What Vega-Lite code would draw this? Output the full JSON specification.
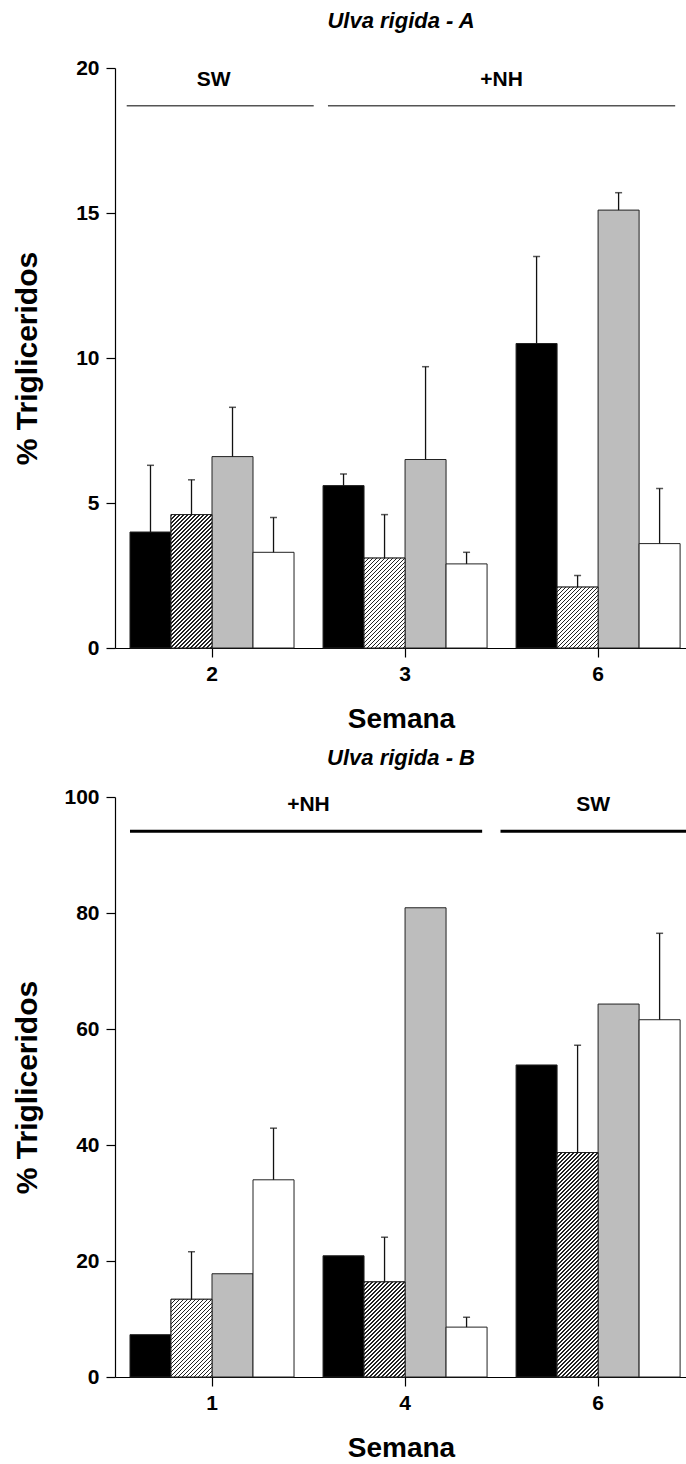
{
  "$schema": "https://vega.github.io/schema/vega-lite/v6.json",
  "background": "white",
  "padding": {"left": 12, "top": 10, "right": 0, "bottom": 0},
  "spacing": 14,
  "config": {
    "font": "Liberation Sans",
    "view": {"stroke": null},
    "axis": {
      "labelFont": "Liberation Sans", "labelFontWeight": "bold", "labelFontSize": 21, "labelColor": "#000",
      "titleFont": "Liberation Sans", "titleFontWeight": "bold", "titleFontSize": 28, "titleColor": "#000",
      "domainColor": "#000", "domainWidth": 1.2, "tickColor": "#000", "tickWidth": 1.2, "tickSize": 9, "grid": false, "labelPadding": 6
    },
    "axisX": {"labelAngle": 0, "titlePadding": 21},
    "axisY": {"titlePadding": 16, "titleX": -87.5, "titleBaseline": "middle", "titleFontSize": 30, "labelPadding": 7},
    "title": {"font": "Liberation Sans", "fontSize": 22, "fontStyle": "italic", "fontWeight": "bold", "color": "#000", "anchor": "middle", "frame": "group", "offset": 24}
  },
  "params": [{"name": "hatch", "value": [
{"offset":0,"color":"#222"},{"offset":0.004,"color":"#222"},{"offset":0.004,"color":"#fff"},{"offset":0.01,"color":"#fff"},
{"offset":0.01,"color":"#222"},{"offset":0.014,"color":"#222"},{"offset":0.014,"color":"#fff"},{"offset":0.02,"color":"#fff"},
{"offset":0.02,"color":"#222"},{"offset":0.024,"color":"#222"},{"offset":0.024,"color":"#fff"},{"offset":0.03,"color":"#fff"},
{"offset":0.03,"color":"#222"},{"offset":0.034,"color":"#222"},{"offset":0.034,"color":"#fff"},{"offset":0.04,"color":"#fff"},
{"offset":0.04,"color":"#222"},{"offset":0.044,"color":"#222"},{"offset":0.044,"color":"#fff"},{"offset":0.05,"color":"#fff"},
{"offset":0.05,"color":"#222"},{"offset":0.054,"color":"#222"},{"offset":0.054,"color":"#fff"},{"offset":0.06,"color":"#fff"},
{"offset":0.06,"color":"#222"},{"offset":0.064,"color":"#222"},{"offset":0.064,"color":"#fff"},{"offset":0.07,"color":"#fff"},
{"offset":0.07,"color":"#222"},{"offset":0.074,"color":"#222"},{"offset":0.074,"color":"#fff"},{"offset":0.08,"color":"#fff"},
{"offset":0.08,"color":"#222"},{"offset":0.084,"color":"#222"},{"offset":0.084,"color":"#fff"},{"offset":0.09,"color":"#fff"},
{"offset":0.09,"color":"#222"},{"offset":0.094,"color":"#222"},{"offset":0.094,"color":"#fff"},{"offset":0.1,"color":"#fff"},
{"offset":0.1,"color":"#222"},{"offset":0.104,"color":"#222"},{"offset":0.104,"color":"#fff"},{"offset":0.11,"color":"#fff"},
{"offset":0.11,"color":"#222"},{"offset":0.114,"color":"#222"},{"offset":0.114,"color":"#fff"},{"offset":0.12,"color":"#fff"},
{"offset":0.12,"color":"#222"},{"offset":0.124,"color":"#222"},{"offset":0.124,"color":"#fff"},{"offset":0.13,"color":"#fff"},
{"offset":0.13,"color":"#222"},{"offset":0.134,"color":"#222"},{"offset":0.134,"color":"#fff"},{"offset":0.14,"color":"#fff"},
{"offset":0.14,"color":"#222"},{"offset":0.144,"color":"#222"},{"offset":0.144,"color":"#fff"},{"offset":0.15,"color":"#fff"},
{"offset":0.15,"color":"#222"},{"offset":0.154,"color":"#222"},{"offset":0.154,"color":"#fff"},{"offset":0.16,"color":"#fff"},
{"offset":0.16,"color":"#222"},{"offset":0.164,"color":"#222"},{"offset":0.164,"color":"#fff"},{"offset":0.17,"color":"#fff"},
{"offset":0.17,"color":"#222"},{"offset":0.174,"color":"#222"},{"offset":0.174,"color":"#fff"},{"offset":0.18,"color":"#fff"},
{"offset":0.18,"color":"#222"},{"offset":0.184,"color":"#222"},{"offset":0.184,"color":"#fff"},{"offset":0.19,"color":"#fff"},
{"offset":0.19,"color":"#222"},{"offset":0.194,"color":"#222"},{"offset":0.194,"color":"#fff"},{"offset":0.2,"color":"#fff"},
{"offset":0.2,"color":"#222"},{"offset":0.204,"color":"#222"},{"offset":0.204,"color":"#fff"},{"offset":0.21,"color":"#fff"},
{"offset":0.21,"color":"#222"},{"offset":0.214,"color":"#222"},{"offset":0.214,"color":"#fff"},{"offset":0.22,"color":"#fff"},
{"offset":0.22,"color":"#222"},{"offset":0.224,"color":"#222"},{"offset":0.224,"color":"#fff"},{"offset":0.23,"color":"#fff"},
{"offset":0.23,"color":"#222"},{"offset":0.234,"color":"#222"},{"offset":0.234,"color":"#fff"},{"offset":0.24,"color":"#fff"},
{"offset":0.24,"color":"#222"},{"offset":0.244,"color":"#222"},{"offset":0.244,"color":"#fff"},{"offset":0.25,"color":"#fff"},
{"offset":0.25,"color":"#222"},{"offset":0.254,"color":"#222"},{"offset":0.254,"color":"#fff"},{"offset":0.26,"color":"#fff"},
{"offset":0.26,"color":"#222"},{"offset":0.264,"color":"#222"},{"offset":0.264,"color":"#fff"},{"offset":0.27,"color":"#fff"},
{"offset":0.27,"color":"#222"},{"offset":0.274,"color":"#222"},{"offset":0.274,"color":"#fff"},{"offset":0.28,"color":"#fff"},
{"offset":0.28,"color":"#222"},{"offset":0.284,"color":"#222"},{"offset":0.284,"color":"#fff"},{"offset":0.29,"color":"#fff"},
{"offset":0.29,"color":"#222"},{"offset":0.294,"color":"#222"},{"offset":0.294,"color":"#fff"},{"offset":0.3,"color":"#fff"},
{"offset":0.3,"color":"#222"},{"offset":0.304,"color":"#222"},{"offset":0.304,"color":"#fff"},{"offset":0.31,"color":"#fff"},
{"offset":0.31,"color":"#222"},{"offset":0.314,"color":"#222"},{"offset":0.314,"color":"#fff"},{"offset":0.32,"color":"#fff"},
{"offset":0.32,"color":"#222"},{"offset":0.324,"color":"#222"},{"offset":0.324,"color":"#fff"},{"offset":0.33,"color":"#fff"},
{"offset":0.33,"color":"#222"},{"offset":0.334,"color":"#222"},{"offset":0.334,"color":"#fff"},{"offset":0.34,"color":"#fff"},
{"offset":0.34,"color":"#222"},{"offset":0.344,"color":"#222"},{"offset":0.344,"color":"#fff"},{"offset":0.35,"color":"#fff"},
{"offset":0.35,"color":"#222"},{"offset":0.354,"color":"#222"},{"offset":0.354,"color":"#fff"},{"offset":0.36,"color":"#fff"},
{"offset":0.36,"color":"#222"},{"offset":0.364,"color":"#222"},{"offset":0.364,"color":"#fff"},{"offset":0.37,"color":"#fff"},
{"offset":0.37,"color":"#222"},{"offset":0.374,"color":"#222"},{"offset":0.374,"color":"#fff"},{"offset":0.38,"color":"#fff"},
{"offset":0.38,"color":"#222"},{"offset":0.384,"color":"#222"},{"offset":0.384,"color":"#fff"},{"offset":0.39,"color":"#fff"},
{"offset":0.39,"color":"#222"},{"offset":0.394,"color":"#222"},{"offset":0.394,"color":"#fff"},{"offset":0.4,"color":"#fff"},
{"offset":0.4,"color":"#222"},{"offset":0.404,"color":"#222"},{"offset":0.404,"color":"#fff"},{"offset":0.41,"color":"#fff"},
{"offset":0.41,"color":"#222"},{"offset":0.414,"color":"#222"},{"offset":0.414,"color":"#fff"},{"offset":0.42,"color":"#fff"},
{"offset":0.42,"color":"#222"},{"offset":0.424,"color":"#222"},{"offset":0.424,"color":"#fff"},{"offset":0.43,"color":"#fff"},
{"offset":0.43,"color":"#222"},{"offset":0.434,"color":"#222"},{"offset":0.434,"color":"#fff"},{"offset":0.44,"color":"#fff"},
{"offset":0.44,"color":"#222"},{"offset":0.444,"color":"#222"},{"offset":0.444,"color":"#fff"},{"offset":0.45,"color":"#fff"},
{"offset":0.45,"color":"#222"},{"offset":0.454,"color":"#222"},{"offset":0.454,"color":"#fff"},{"offset":0.46,"color":"#fff"},
{"offset":0.46,"color":"#222"},{"offset":0.464,"color":"#222"},{"offset":0.464,"color":"#fff"},{"offset":0.47,"color":"#fff"},
{"offset":0.47,"color":"#222"},{"offset":0.474,"color":"#222"},{"offset":0.474,"color":"#fff"},{"offset":0.48,"color":"#fff"},
{"offset":0.48,"color":"#222"},{"offset":0.484,"color":"#222"},{"offset":0.484,"color":"#fff"},{"offset":0.49,"color":"#fff"},
{"offset":0.49,"color":"#222"},{"offset":0.494,"color":"#222"},{"offset":0.494,"color":"#fff"},{"offset":0.5,"color":"#fff"},
{"offset":0.5,"color":"#222"},{"offset":0.504,"color":"#222"},{"offset":0.504,"color":"#fff"},{"offset":0.51,"color":"#fff"},
{"offset":0.51,"color":"#222"},{"offset":0.514,"color":"#222"},{"offset":0.514,"color":"#fff"},{"offset":0.52,"color":"#fff"},
{"offset":0.52,"color":"#222"},{"offset":0.524,"color":"#222"},{"offset":0.524,"color":"#fff"},{"offset":0.53,"color":"#fff"},
{"offset":0.53,"color":"#222"},{"offset":0.534,"color":"#222"},{"offset":0.534,"color":"#fff"},{"offset":0.54,"color":"#fff"},
{"offset":0.54,"color":"#222"},{"offset":0.544,"color":"#222"},{"offset":0.544,"color":"#fff"},{"offset":0.55,"color":"#fff"},
{"offset":0.55,"color":"#222"},{"offset":0.554,"color":"#222"},{"offset":0.554,"color":"#fff"},{"offset":0.56,"color":"#fff"},
{"offset":0.56,"color":"#222"},{"offset":0.564,"color":"#222"},{"offset":0.564,"color":"#fff"},{"offset":0.57,"color":"#fff"},
{"offset":0.57,"color":"#222"},{"offset":0.574,"color":"#222"},{"offset":0.574,"color":"#fff"},{"offset":0.58,"color":"#fff"},
{"offset":0.58,"color":"#222"},{"offset":0.584,"color":"#222"},{"offset":0.584,"color":"#fff"},{"offset":0.59,"color":"#fff"},
{"offset":0.59,"color":"#222"},{"offset":0.594,"color":"#222"},{"offset":0.594,"color":"#fff"},{"offset":0.6,"color":"#fff"},
{"offset":0.6,"color":"#222"},{"offset":0.604,"color":"#222"},{"offset":0.604,"color":"#fff"},{"offset":0.61,"color":"#fff"},
{"offset":0.61,"color":"#222"},{"offset":0.614,"color":"#222"},{"offset":0.614,"color":"#fff"},{"offset":0.62,"color":"#fff"},
{"offset":0.62,"color":"#222"},{"offset":0.624,"color":"#222"},{"offset":0.624,"color":"#fff"},{"offset":0.63,"color":"#fff"},
{"offset":0.63,"color":"#222"},{"offset":0.634,"color":"#222"},{"offset":0.634,"color":"#fff"},{"offset":0.64,"color":"#fff"},
{"offset":0.64,"color":"#222"},{"offset":0.644,"color":"#222"},{"offset":0.644,"color":"#fff"},{"offset":0.65,"color":"#fff"},
{"offset":0.65,"color":"#222"},{"offset":0.654,"color":"#222"},{"offset":0.654,"color":"#fff"},{"offset":0.66,"color":"#fff"},
{"offset":0.66,"color":"#222"},{"offset":0.664,"color":"#222"},{"offset":0.664,"color":"#fff"},{"offset":0.67,"color":"#fff"}
  ]}],
  "vconcat": [
    {
      "title": "Ulva rigida - A",
      "width": 572,
      "height": 580,
      "layer": [
        {
          "data": {"values": [
            {"wk": "2", "t": "a", "v": 4.0, "hi": 6.3},
            {"wk": "2", "t": "b", "v": 4.6, "hi": 5.8},
            {"wk": "2", "t": "c", "v": 6.6, "hi": 8.3},
            {"wk": "2", "t": "d", "v": 3.3, "hi": 4.5},
            {"wk": "3", "t": "a", "v": 5.6, "hi": 6.0},
            {"wk": "3", "t": "b", "v": 3.1, "hi": 4.6},
            {"wk": "3", "t": "c", "v": 6.5, "hi": 9.7},
            {"wk": "3", "t": "d", "v": 2.9, "hi": 3.3},
            {"wk": "6", "t": "a", "v": 10.5, "hi": 13.5},
            {"wk": "6", "t": "b", "v": 2.1, "hi": 2.5},
            {"wk": "6", "t": "c", "v": 15.1, "hi": 15.7},
            {"wk": "6", "t": "d", "v": 3.6, "hi": 5.5}
          ]},
          "encoding": {
            "x": {"field": "wk", "type": "ordinal", "title": "Semana", "scale": {"domain": ["2", "3", "6"], "paddingInner": 0.1503, "paddingOuter": 0.0567, "align": 0.685}},
            "xOffset": {"field": "t", "type": "nominal", "scale": {"domain": ["a", "b", "c", "d"], "paddingInner": 0, "paddingOuter": 0}}
          },
          "layer": [
            {
              "mark": {"type": "bar", "stroke": "#222", "strokeWidth": 1},
              "encoding": {
                "y": {"field": "v", "type": "quantitative", "title": "% Trigliceridos", "scale": {"domain": [0, 20], "nice": false}, "axis": {"values": [0, 5, 10, 15, 20]}},
                "fill": {"field": "t", "type": "nominal", "legend": null, "scale": {"domain": ["a", "b", "c", "d"], "range": ["#000000", "#ffffff", "#bdbdbd", "#ffffff"]}}
              }
            },
            {
              "transform": [{"filter": "datum.t === 'b'"}],
              "mark": {"type": "bar", "stroke": "#222", "strokeWidth": 1, "fill": {"expr": "{gradient: 'linear', x1: 0, y1: 0, x2: 41*400/(1681 + pow(datum.v*29, 2)), y2: datum.v*29*400/(1681 + pow(datum.v*29, 2)), stops: hatch}"}},
              "encoding": {
                "y": {"field": "v", "type": "quantitative", "title": "% Trigliceridos"}
              }
            },
            {
              "mark": {"type": "rule", "color": "#111", "strokeWidth": 1.3},
              "encoding": {
                "y": {"field": "v", "type": "quantitative", "title": "% Trigliceridos"},
                "y2": {"field": "hi"}
              }
            },
            {
              "mark": {"type": "tick", "color": "#111", "thickness": 1.5, "size": 7, "orient": "horizontal"},
              "encoding": {
                "y": {"field": "hi", "type": "quantitative", "title": "% Trigliceridos"}
              }
            }
          ]
        },
        {
          "data": {"values": [
            {"label": "SW", "first": "2", "last": "2"},
            {"label": "+NH", "first": "3", "last": "6"}
          ]},
          "layer": [
            {
              "transform": [{"filter": "datum.first === datum.last"}],
              "mark": {"type": "rule", "color": "#555", "strokeWidth": 1.5},
              "encoding": {
                "x": {"field": "first", "type": "ordinal", "title": "Semana", "bandPosition": -0.02, "scale": {"domain": ["2", "3", "6"]}},
                "x2": {"field": "last", "bandPosition": 1.12},
                "y": {"datum": 18.7, "type": "quantitative"}
              }
            },
            {
              "transform": [{"filter": "datum.first !== datum.last"}],
              "mark": {"type": "rule", "color": "#555", "strokeWidth": 1.5},
              "encoding": {
                "x": {"field": "first", "type": "ordinal", "title": "Semana", "bandPosition": 0.03, "scale": {"domain": ["2", "3", "6"]}},
                "x2": {"field": "last", "bandPosition": 0.97},
                "y": {"datum": 18.7, "type": "quantitative"}
              }
            },
            {
              "transform": [{"filter": "datum.first === datum.last"}],
              "mark": {"type": "text", "fontSize": 21, "fontWeight": "bold", "baseline": "middle", "align": "center", "color": "#000"},
              "encoding": {
                "x": {"field": "first", "type": "ordinal", "title": "Semana", "bandPosition": 0.51, "scale": {"domain": ["2", "3", "6"]}},
                "y": {"datum": 19.6, "type": "quantitative"},
                "text": {"field": "label"}
              }
            },
            {
              "transform": [{"filter": "datum.first !== datum.last"}],
              "mark": {"type": "text", "fontSize": 21, "fontWeight": "bold", "baseline": "middle", "align": "center", "color": "#000"},
              "encoding": {
                "x": {"field": "first", "type": "ordinal", "title": "Semana", "bandPosition": 1.088, "scale": {"domain": ["2", "3", "6"]}},
                "y": {"datum": 19.6, "type": "quantitative"},
                "text": {"field": "label"}
              }
            }
          ]
        }
      ]
    },
    {
      "title": {"text": "Ulva rigida - B", "offset": 16},
      "width": 572,
      "height": 580,
      "layer": [
        {
          "data": {"values": [
            {"wk": "1", "t": "a", "v": 7.3, "hi": null},
            {"wk": "1", "t": "b", "v": 13.4, "hi": 21.6},
            {"wk": "1", "t": "c", "v": 17.8, "hi": null},
            {"wk": "1", "t": "d", "v": 34.0, "hi": 42.9},
            {"wk": "4", "t": "a", "v": 20.9, "hi": null},
            {"wk": "4", "t": "b", "v": 16.4, "hi": 24.1},
            {"wk": "4", "t": "c", "v": 80.9, "hi": null},
            {"wk": "4", "t": "d", "v": 8.6, "hi": 10.3},
            {"wk": "6", "t": "a", "v": 53.8, "hi": null},
            {"wk": "6", "t": "b", "v": 38.7, "hi": 57.2},
            {"wk": "6", "t": "c", "v": 64.3, "hi": null},
            {"wk": "6", "t": "d", "v": 61.6, "hi": 76.5}
          ]},
          "encoding": {
            "x": {"field": "wk", "type": "ordinal", "title": "Semana", "axis": {"titlePadding": 21}, "scale": {"domain": ["1", "4", "6"], "paddingInner": 0.1503, "paddingOuter": 0.0567, "align": 0.685}},
            "xOffset": {"field": "t", "type": "nominal", "scale": {"domain": ["a", "b", "c", "d"], "paddingInner": 0, "paddingOuter": 0}}
          },
          "layer": [
            {
              "mark": {"type": "bar", "stroke": "#222", "strokeWidth": 1},
              "encoding": {
                "y": {"field": "v", "type": "quantitative", "title": "% Trigliceridos", "scale": {"domain": [0, 100], "nice": false}, "axis": {"values": [0, 20, 40, 60, 80, 100]}},
                "fill": {"field": "t", "type": "nominal", "legend": null, "scale": {"domain": ["a", "b", "c", "d"], "range": ["#000000", "#ffffff", "#bdbdbd", "#ffffff"]}}
              }
            },
            {
              "transform": [{"filter": "datum.t === 'b'"}],
              "mark": {"type": "bar", "stroke": "#222", "strokeWidth": 1, "fill": {"expr": "{gradient: 'linear', x1: 0, y1: 0, x2: 41*400/(1681 + pow(datum.v*5.8, 2)), y2: datum.v*5.8*400/(1681 + pow(datum.v*5.8, 2)), stops: hatch}"}},
              "encoding": {
                "y": {"field": "v", "type": "quantitative", "title": "% Trigliceridos"}
              }
            },
            {
              "transform": [{"filter": "datum.hi != null"}],
              "mark": {"type": "rule", "color": "#111", "strokeWidth": 1.3},
              "encoding": {
                "y": {"field": "v", "type": "quantitative", "title": "% Trigliceridos"},
                "y2": {"field": "hi"}
              }
            },
            {
              "transform": [{"filter": "datum.hi != null"}],
              "mark": {"type": "tick", "color": "#111", "thickness": 1.5, "size": 7, "orient": "horizontal"},
              "encoding": {
                "y": {"field": "hi", "type": "quantitative", "title": "% Trigliceridos"}
              }
            }
          ]
        },
        {
          "data": {"values": [
            {"label": "+NH", "first": "1", "last": "4"},
            {"label": "SW", "first": "6", "last": "6"}
          ]},
          "layer": [
            {
              "transform": [{"filter": "datum.first !== datum.last"}],
              "mark": {"type": "rule", "color": "#000", "strokeWidth": 3},
              "encoding": {
                "x": {"field": "first", "type": "ordinal", "title": "Semana", "bandPosition": 0, "scale": {"domain": ["1", "4", "6"]}},
                "x2": {"field": "last", "bandPosition": 0.97},
                "y": {"datum": 94.1, "type": "quantitative"}
              }
            },
            {
              "transform": [{"filter": "datum.first === datum.last"}],
              "mark": {"type": "rule", "color": "#000", "strokeWidth": 3},
              "encoding": {
                "x": {"field": "first", "type": "ordinal", "title": "Semana", "bandPosition": -0.095, "scale": {"domain": ["1", "4", "6"]}},
                "x2": {"field": "last", "bandPosition": 1.04},
                "y": {"datum": 94.1, "type": "quantitative"}
              }
            },
            {
              "transform": [{"filter": "datum.first === datum.last"}],
              "mark": {"type": "text", "fontSize": 21, "fontWeight": "bold", "baseline": "middle", "align": "center", "color": "#000"},
              "encoding": {
                "x": {"field": "first", "type": "ordinal", "title": "Semana", "bandPosition": 0.47, "scale": {"domain": ["1", "4", "6"]}},
                "y": {"datum": 98.6, "type": "quantitative"},
                "text": {"field": "label"}
              }
            },
            {
              "transform": [{"filter": "datum.first !== datum.last"}],
              "mark": {"type": "text", "fontSize": 21, "fontWeight": "bold", "baseline": "middle", "align": "center", "color": "#000"},
              "encoding": {
                "x": {"field": "first", "type": "ordinal", "title": "Semana", "bandPosition": 1.088, "scale": {"domain": ["1", "4", "6"]}},
                "y": {"datum": 98.6, "type": "quantitative"},
                "text": {"field": "label"}
              }
            }
          ]
        }
      ]
    }
  ]
}
